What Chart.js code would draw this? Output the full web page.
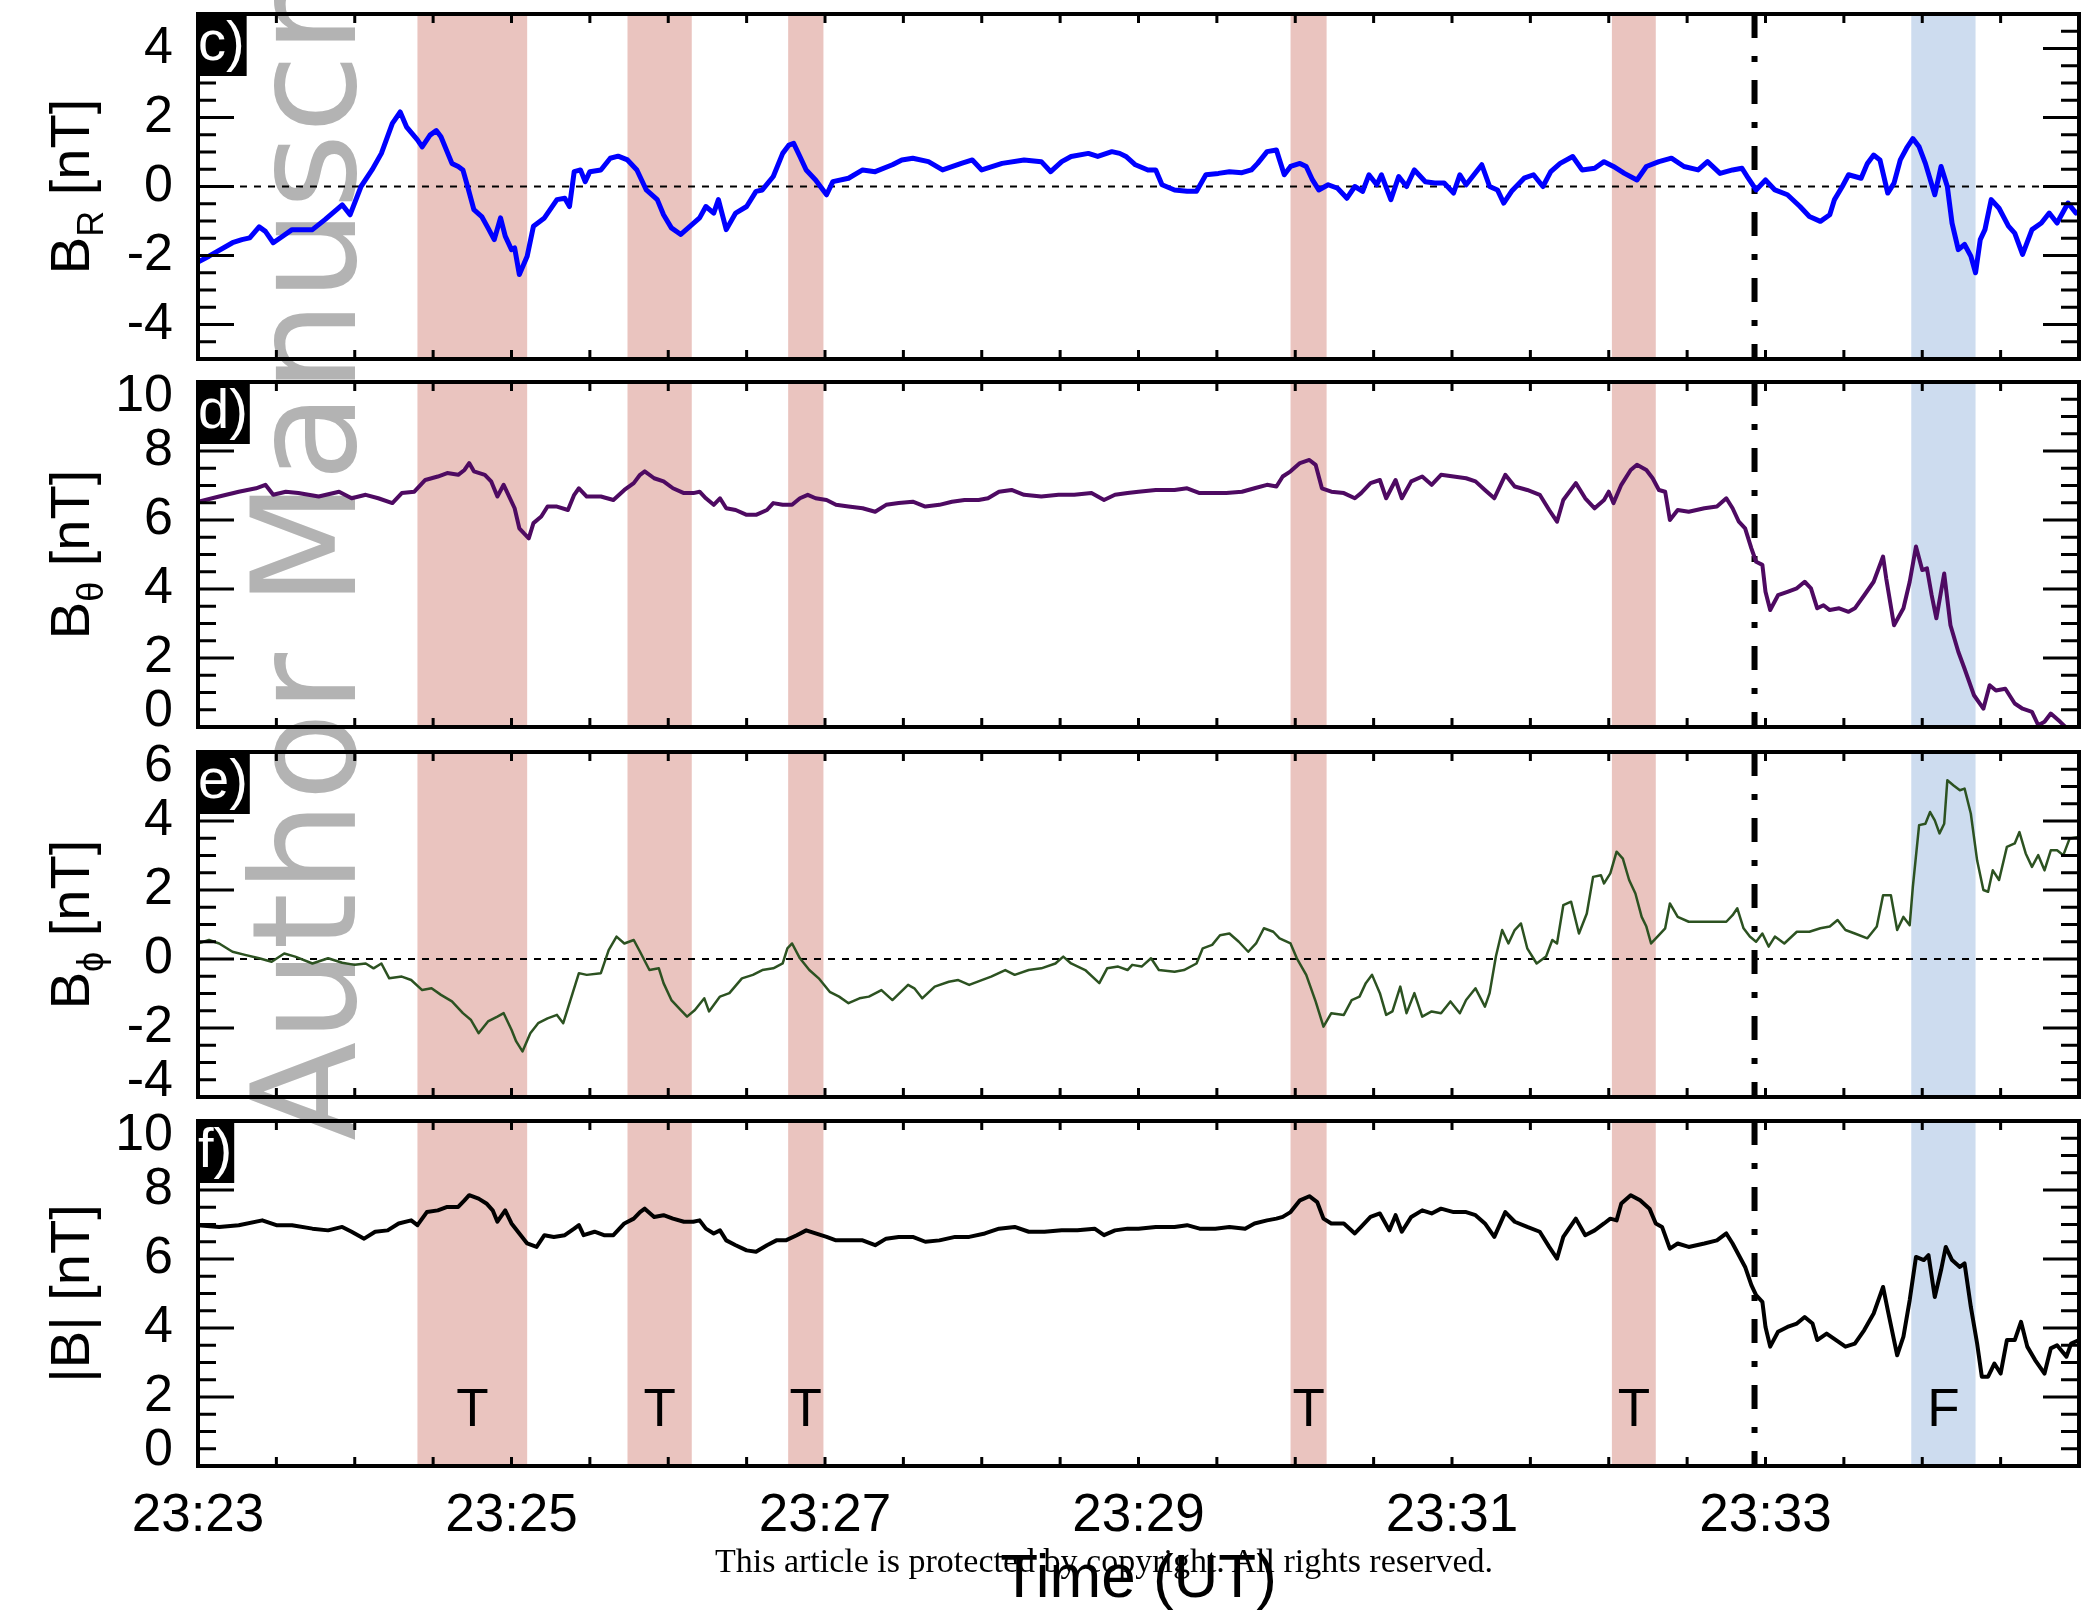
<!DOCTYPE html>
<html>
<head>
<meta charset="utf-8">
<script src="https://cdn.jsdelivr.net/npm/chart.js@4.4.0/dist/chart.umd.min.js"></script>
<style>
  html, body { margin: 0; padding: 0; background: #fff; }
  #wrap { position: relative; width: 2081px; height: 1613px; overflow: hidden; }
  #wrap canvas { position: absolute; left: 0; }
  #mark { top: 0; z-index: 0; }
  .panel { z-index: 1; }
  #copy { position: absolute; z-index: 3; left: 1104px; top: 1561px; transform: translate(-50%, -50%);
          font: 34px "Liberation Serif", serif; white-space: nowrap; color: #000; }
</style>
</head>
<body>
<div id="wrap">
  <canvas id="mark" width="2081" height="1613"></canvas>
  <canvas id="pc" class="panel"></canvas>
  <canvas id="pd" class="panel"></canvas>
  <canvas id="pe" class="panel"></canvas>
  <canvas id="pf" class="panel"></canvas>
  <div id="copy">This article is protected by copyright. All rights reserved.</div>
</div>
<script>
// time in minutes after 23:23 UT, field in nT
const brPoints = [[0,-2.19],[0.07,-2.02],[0.22,-1.63],[0.28,-1.54],[0.33,-1.49],[0.39,-1.17],[0.43,-1.30],[0.48,-1.63],[0.54,-1.44],[0.60,-1.25],[0.73,-1.25],[0.81,-0.96],[0.92,-0.53],[0.97,-0.82],[1.04,0],[1.11,0.48],[1.17,0.96],[1.24,1.83],[1.29,2.16],[1.33,1.73],[1.40,1.35],[1.43,1.15],[1.48,1.49],[1.52,1.62],[1.55,1.44],[1.62,0.67],[1.66,0.58],[1.69,0.48],[1.72,0],[1.76,-0.67],[1.81,-0.87],[1.85,-1.20],[1.89,-1.54],[1.93,-0.91],[1.96,-1.44],[2.00,-1.83],[2.02,-1.78],[2.05,-2.55],[2.10,-2.02],[2.14,-1.15],[2.21,-0.91],[2.29,-0.38],[2.34,-0.34],[2.37,-0.58],[2.40,0.43],[2.44,0.48],[2.47,0.14],[2.50,0.43],[2.57,0.48],[2.63,0.82],[2.68,0.88],[2.74,0.77],[2.80,0.48],[2.86,-0.10],[2.93,-0.38],[2.97,-0.82],[3.02,-1.20],[3.08,-1.39],[3.14,-1.15],[3.20,-0.91],[3.24,-0.58],[3.29,-0.77],[3.32,-0.38],[3.37,-1.25],[3.43,-0.77],[3.50,-0.58],[3.56,-0.14],[3.60,-0.10],[3.67,0.29],[3.73,0.96],[3.77,1.20],[3.80,1.25],[3.84,0.87],[3.88,0.48],[3.94,0.19],[4.01,-0.24],[4.05,0.14],[4.15,0.24],[4.24,0.48],[4.32,0.43],[4.43,0.63],[4.49,0.77],[4.56,0.82],[4.66,0.72],[4.75,0.48],[4.87,0.67],[4.94,0.77],[5.00,0.48],[5.13,0.67],[5.27,0.77],[5.38,0.72],[5.44,0.43],[5.51,0.72],[5.57,0.87],[5.68,0.96],[5.74,0.87],[5.83,1.01],[5.88,0.96],[5.92,0.87],[5.98,0.63],[6.06,0.48],[6.11,0.48],[6.15,0.05],[6.23,-0.10],[6.31,-0.14],[6.37,-0.14],[6.43,0.34],[6.51,0.38],[6.58,0.43],[6.66,0.40],[6.72,0.48],[6.76,0.67],[6.82,1.01],[6.88,1.06],[6.90,0.77],[6.93,0.34],[6.97,0.58],[7.03,0.67],[7.07,0.58],[7.11,0.19],[7.15,-0.10],[7.21,0.05],[7.27,-0.05],[7.33,-0.34],[7.38,0],[7.43,-0.14],[7.47,0.34],[7.52,0.05],[7.55,0.34],[7.61,-0.38],[7.66,0.29],[7.71,0],[7.76,0.48],[7.83,0.14],[7.89,0.10],[7.95,0.10],[8.01,-0.19],[8.05,0.34],[8.09,0.05],[8.19,0.63],[8.24,0],[8.29,-0.10],[8.33,-0.48],[8.38,-0.14],[8.46,0.24],[8.52,0.34],[8.58,0],[8.63,0.43],[8.69,0.67],[8.77,0.87],[8.83,0.48],[8.91,0.53],[8.97,0.72],[9.03,0.58],[9.10,0.38],[9.18,0.19],[9.24,0.58],[9.32,0.72],[9.40,0.82],[9.48,0.58],[9.57,0.48],[9.63,0.72],[9.71,0.38],[9.79,0.48],[9.85,0.53],[9.89,0.24],[9.94,-0.10],[10.00,0.19],[10.06,-0.10],[10.14,-0.24],[10.22,-0.58],[10.28,-0.87],[10.35,-1.01],[10.41,-0.82],[10.44,-0.38],[10.49,0],[10.53,0.34],[10.61,0.24],[10.65,0.67],[10.69,0.91],[10.73,0.77],[10.78,-0.19],[10.82,0.10],[10.86,0.77],[10.90,1.11],[10.94,1.39],[10.98,1.15],[11.02,0.67],[11.08,-0.24],[11.12,0.58],[11.16,0],[11.19,-1.06],[11.23,-1.83],[11.27,-1.68],[11.31,-2.02],[11.34,-2.50],[11.37,-1.54],[11.40,-1.25],[11.44,-0.38],[11.49,-0.63],[11.55,-1.15],[11.59,-1.35],[11.64,-1.97],[11.70,-1.25],[11.76,-1.06],[11.81,-0.77],[11.86,-1.06],[11.93,-0.48],[11.98,-0.77],[12.0,-0.72]];

const bthetaPoints = [[0,6.53],[0.135,6.68],[0.26,6.82],[0.37,6.92],[0.43,7.02],[0.48,6.73],[0.56,6.82],[0.64,6.78],[0.77,6.68],[0.90,6.82],[0.98,6.63],[1.07,6.73],[1.15,6.63],[1.24,6.49],[1.30,6.78],[1.38,6.82],[1.45,7.16],[1.53,7.26],[1.59,7.36],[1.66,7.31],[1.70,7.45],[1.73,7.65],[1.76,7.41],[1.83,7.31],[1.87,7.12],[1.91,6.68],[1.95,7.02],[1.98,6.73],[2.02,6.34],[2.05,5.76],[2.08,5.61],[2.11,5.47],[2.14,5.91],[2.19,6.10],[2.23,6.39],[2.29,6.39],[2.36,6.29],[2.40,6.73],[2.43,6.92],[2.48,6.68],[2.57,6.68],[2.65,6.58],[2.72,6.87],[2.78,7.07],[2.82,7.31],[2.85,7.41],[2.91,7.21],[2.97,7.12],[3.03,6.92],[3.10,6.78],[3.16,6.78],[3.20,6.82],[3.24,6.63],[3.29,6.44],[3.33,6.63],[3.37,6.34],[3.43,6.29],[3.50,6.15],[3.56,6.15],[3.63,6.29],[3.67,6.49],[3.73,6.44],[3.79,6.44],[3.84,6.63],[3.89,6.73],[3.94,6.63],[4.01,6.58],[4.07,6.44],[4.15,6.39],[4.24,6.34],[4.32,6.24],[4.39,6.44],[4.47,6.49],[4.56,6.53],[4.64,6.39],[4.73,6.44],[4.81,6.53],[4.89,6.58],[4.98,6.58],[5.04,6.63],[5.11,6.82],[5.19,6.87],[5.27,6.73],[5.38,6.68],[5.49,6.73],[5.59,6.73],[5.70,6.78],[5.78,6.58],[5.85,6.73],[5.93,6.78],[6.0,6.82],[6.11,6.87],[6.23,6.87],[6.31,6.92],[6.39,6.78],[6.47,6.78],[6.56,6.78],[6.66,6.82],[6.74,6.92],[6.82,7.02],[6.88,6.97],[6.92,7.26],[6.97,7.41],[7.03,7.65],[7.09,7.74],[7.13,7.60],[7.17,6.92],[7.23,6.82],[7.31,6.78],[7.38,6.63],[7.42,6.78],[7.48,7.07],[7.54,7.16],[7.58,6.63],[7.64,7.16],[7.68,6.63],[7.74,7.12],[7.81,7.26],[7.87,7.02],[7.93,7.31],[8.01,7.26],[8.09,7.21],[8.15,7.12],[8.21,6.87],[8.27,6.63],[8.34,7.31],[8.40,6.97],[8.48,6.87],[8.56,6.73],[8.62,6.29],[8.67,5.95],[8.71,6.58],[8.79,7.07],[8.85,6.63],[8.91,6.34],[8.97,6.58],[9.00,6.82],[9.03,6.49],[9.08,7.02],[9.14,7.45],[9.18,7.60],[9.24,7.45],[9.28,7.21],[9.32,6.87],[9.36,6.82],[9.39,6.00],[9.44,6.29],[9.51,6.24],[9.61,6.34],[9.69,6.39],[9.75,6.63],[9.79,6.34],[9.83,5.95],[9.87,5.76],[9.91,5.18],[9.94,4.79],[9.98,4.70],[10.00,3.92],[10.03,3.39],[10.08,3.82],[10.14,3.92],[10.20,4.02],[10.25,4.21],[10.29,4.02],[10.33,3.44],[10.37,3.53],[10.41,3.39],[10.47,3.44],[10.53,3.34],[10.57,3.44],[10.63,3.82],[10.69,4.21],[10.75,4.94],[10.77,4.31],[10.82,2.95],[10.88,3.44],[10.92,4.21],[10.96,5.23],[11.00,4.55],[11.03,4.60],[11.06,3.82],[11.09,3.15],[11.14,4.45],[11.18,2.95],[11.23,2.18],[11.27,1.69],[11.33,0.92],[11.39,0.53],[11.43,1.21],[11.47,1.06],[11.53,1.11],[11.59,0.68],[11.64,0.53],[11.70,0.44],[11.74,0.05],[11.78,0.15],[11.82,0.39],[11.88,0.15],[11.93,-0.07],[12.0,-0.1]];

const bphiPoints = [[0,0.45],[0.07,0.55],[0.135,0.45],[0.22,0.21],[0.30,0.12],[0.39,0.02],[0.47,-0.08],[0.55,0.16],[0.62,0.07],[0.73,-0.13],[0.83,0.02],[0.92,-0.11],[1.0,-0.17],[1.07,-0.13],[1.12,-0.27],[1.17,-0.13],[1.22,-0.56],[1.30,-0.51],[1.36,-0.61],[1.43,-0.90],[1.49,-0.85],[1.55,-1.04],[1.62,-1.23],[1.69,-1.57],[1.74,-1.76],[1.79,-2.15],[1.85,-1.81],[1.91,-1.67],[1.95,-1.57],[2.0,-2.05],[2.03,-2.39],[2.07,-2.68],[2.12,-2.15],[2.17,-1.86],[2.23,-1.72],[2.29,-1.62],[2.33,-1.86],[2.39,-0.99],[2.43,-0.41],[2.48,-0.46],[2.57,-0.41],[2.62,0.26],[2.67,0.65],[2.72,0.45],[2.78,0.55],[2.82,0.21],[2.88,-0.32],[2.94,-0.27],[2.97,-0.70],[3.02,-1.19],[3.08,-1.48],[3.12,-1.67],[3.17,-1.48],[3.23,-1.14],[3.26,-1.52],[3.33,-1.09],[3.39,-0.99],[3.47,-0.56],[3.54,-0.46],[3.60,-0.32],[3.67,-0.27],[3.73,-0.13],[3.76,0.31],[3.79,0.45],[3.84,0.02],[3.90,-0.32],[3.96,-0.56],[4.03,-0.95],[4.09,-1.09],[4.15,-1.28],[4.22,-1.14],[4.28,-1.09],[4.36,-0.90],[4.43,-1.19],[4.53,-0.75],[4.57,-0.85],[4.62,-1.14],[4.70,-0.80],[4.79,-0.66],[4.85,-0.61],[4.92,-0.75],[5.0,-0.61],[5.06,-0.51],[5.15,-0.32],[5.21,-0.46],[5.30,-0.32],[5.38,-0.27],[5.47,-0.13],[5.52,0.07],[5.57,-0.13],[5.66,-0.32],[5.75,-0.70],[5.80,-0.27],[5.87,-0.22],[5.93,-0.32],[5.96,-0.17],[6.02,-0.22],[6.08,0.02],[6.13,-0.32],[6.23,-0.37],[6.29,-0.32],[6.37,-0.13],[6.41,0.31],[6.47,0.41],[6.52,0.69],[6.58,0.74],[6.64,0.50],[6.70,0.21],[6.75,0.45],[6.80,0.89],[6.86,0.79],[6.90,0.60],[6.97,0.45],[7.01,0.02],[7.07,-0.46],[7.13,-1.23],[7.18,-1.96],[7.23,-1.57],[7.31,-1.62],[7.36,-1.19],[7.41,-1.09],[7.45,-0.70],[7.49,-0.46],[7.54,-0.99],[7.58,-1.62],[7.62,-1.52],[7.67,-0.80],[7.71,-1.57],[7.76,-0.99],[7.81,-1.67],[7.87,-1.52],[7.93,-1.57],[7.99,-1.23],[8.05,-1.57],[8.09,-1.19],[8.15,-0.85],[8.21,-1.38],[8.24,-0.99],[8.28,0.07],[8.32,0.84],[8.36,0.45],[8.40,0.84],[8.44,1.03],[8.48,0.31],[8.54,-0.13],[8.60,0.07],[8.64,0.55],[8.67,0.45],[8.71,1.56],[8.76,1.66],[8.81,0.74],[8.86,1.32],[8.90,2.38],[8.95,2.43],[8.97,2.19],[9.01,2.48],[9.05,3.11],[9.09,2.91],[9.13,2.29],[9.17,1.90],[9.21,1.22],[9.24,0.94],[9.27,0.45],[9.32,0.69],[9.36,0.89],[9.39,1.61],[9.44,1.22],[9.51,1.08],[9.61,1.08],[9.69,1.08],[9.75,1.08],[9.79,1.27],[9.82,1.47],[9.86,0.89],[9.90,0.65],[9.94,0.50],[9.98,0.74],[10.02,0.36],[10.06,0.65],[10.12,0.45],[10.20,0.79],[10.28,0.79],[10.35,0.89],[10.41,0.94],[10.46,1.13],[10.51,0.84],[10.57,0.74],[10.65,0.60],[10.71,0.94],[10.75,1.85],[10.80,1.85],[10.84,0.84],[10.88,1.22],[10.92,0.98],[10.94,2.09],[10.98,3.88],[11.02,3.92],[11.05,4.26],[11.08,4.02],[11.11,3.64],[11.14,3.92],[11.16,5.18],[11.20,5.03],[11.24,4.89],[11.27,4.94],[11.31,4.21],[11.35,2.86],[11.39,2.00],[11.42,1.95],[11.45,2.57],[11.49,2.29],[11.54,3.25],[11.59,3.35],[11.62,3.68],[11.66,3.06],[11.70,2.67],[11.74,3.01],[11.78,2.57],[11.82,3.15],[11.86,3.15],[11.90,3.01],[11.94,3.49],[12.0,3.54]];

const bmagPoints = [[0,6.98],[0.135,6.93],[0.26,6.98],[0.41,7.12],[0.50,6.98],[0.60,6.98],[0.73,6.88],[0.83,6.83],[0.92,6.93],[0.98,6.79],[1.06,6.59],[1.13,6.79],[1.21,6.83],[1.28,7.03],[1.36,7.12],[1.40,6.98],[1.46,7.36],[1.53,7.41],[1.59,7.51],[1.66,7.51],[1.70,7.70],[1.73,7.85],[1.79,7.75],[1.84,7.61],[1.88,7.41],[1.91,7.08],[1.96,7.41],[2.00,7.03],[2.05,6.74],[2.10,6.45],[2.16,6.35],[2.21,6.69],[2.27,6.64],[2.34,6.69],[2.40,6.88],[2.43,6.98],[2.46,6.69],[2.53,6.79],[2.59,6.69],[2.65,6.69],[2.72,7.03],[2.78,7.17],[2.82,7.36],[2.85,7.46],[2.91,7.22],[2.97,7.27],[3.03,7.17],[3.10,7.08],[3.16,7.08],[3.20,7.12],[3.24,6.88],[3.29,6.74],[3.33,6.83],[3.37,6.54],[3.43,6.40],[3.50,6.25],[3.56,6.21],[3.63,6.40],[3.69,6.54],[3.75,6.54],[3.82,6.69],[3.88,6.83],[3.94,6.74],[4.01,6.64],[4.07,6.54],[4.15,6.54],[4.24,6.54],[4.32,6.40],[4.39,6.59],[4.47,6.64],[4.56,6.64],[4.64,6.50],[4.73,6.54],[4.83,6.64],[4.92,6.64],[5.02,6.74],[5.11,6.88],[5.21,6.93],[5.30,6.79],[5.40,6.79],[5.51,6.83],[5.61,6.83],[5.72,6.88],[5.78,6.69],[5.85,6.83],[5.93,6.88],[6.0,6.88],[6.11,6.93],[6.23,6.93],[6.31,6.98],[6.39,6.88],[6.49,6.88],[6.58,6.93],[6.68,6.88],[6.74,7.03],[6.82,7.12],[6.88,7.17],[6.92,7.22],[6.97,7.36],[7.03,7.70],[7.09,7.82],[7.14,7.65],[7.18,7.17],[7.23,7.03],[7.31,7.03],[7.38,6.74],[7.42,6.93],[7.48,7.22],[7.54,7.32],[7.60,6.83],[7.64,7.27],[7.68,6.79],[7.74,7.22],[7.81,7.41],[7.87,7.32],[7.93,7.46],[8.01,7.36],[8.09,7.36],[8.15,7.27],[8.21,7.03],[8.27,6.64],[8.34,7.36],[8.40,7.08],[8.48,6.93],[8.56,6.79],[8.62,6.35],[8.67,6.01],[8.71,6.64],[8.79,7.17],[8.85,6.69],[8.91,6.83],[8.97,7.03],[9.01,7.17],[9.05,7.12],[9.08,7.61],[9.14,7.85],[9.20,7.70],[9.26,7.46],[9.30,7.03],[9.34,6.93],[9.39,6.30],[9.44,6.45],[9.51,6.35],[9.61,6.45],[9.69,6.54],[9.75,6.74],[9.79,6.45],[9.83,6.11],[9.87,5.77],[9.91,5.24],[9.94,4.95],[9.98,4.76],[10.00,4.03],[10.03,3.46],[10.08,3.89],[10.14,4.03],[10.20,4.13],[10.25,4.32],[10.30,4.13],[10.33,3.65],[10.39,3.84],[10.45,3.65],[10.51,3.46],[10.57,3.55],[10.63,3.94],[10.69,4.42],[10.75,5.19],[10.78,4.52],[10.84,3.21],[10.88,3.75],[10.92,4.81],[10.96,6.06],[11.01,5.97],[11.04,6.11],[11.08,4.90],[11.12,5.68],[11.15,6.35],[11.19,5.97],[11.24,5.77],[11.27,5.87],[11.31,4.61],[11.35,3.55],[11.38,2.59],[11.42,2.59],[11.46,2.97],[11.50,2.68],[11.54,3.65],[11.59,3.65],[11.63,4.18],[11.67,3.46],[11.72,3.07],[11.78,2.68],[11.82,3.41],[11.86,3.50],[11.92,3.17],[11.95,3.55],[12.0,3.65]];

// shaded intervals (minutes after 23:23) and their tags
const tBands = [[1.40, 2.10], [2.74, 3.15], [3.765, 3.99], [6.97, 7.20], [9.02, 9.30]];
const fBands = [[10.93, 11.34]];
const bandTags = ['T', 'T', 'T', 'T', 'T', 'F'];
const boundaryTime = 9.93;
const tagLevel = 1.16;

const FONT = '"Liberation Sans", Arial, Helvetica, sans-serif';

// watermark behind the panels
(function () {
  const ctx = document.getElementById('mark').getContext('2d');
  ctx.save();
  ctx.translate(355, 1141);
  ctx.rotate(-Math.PI / 2);
  ctx.font = '145px "DejaVu Sans"';
  ctx.fillStyle = '#b3b3b3';
  ctx.fillText('Author Manuscript', 0, 0);
  ctx.restore();
})();

const decor = {
  id: 'decor',
  beforeDraw(chart) {
    // pull the outermost labelled y ticks inside the frame
    const y = chart.scales.y;
    if (!y._shifted) {
      const orig = y.getPixelForTick.bind(y);
      y.getPixelForTick = function (i) {
        const p = orig(i);
        const n = this.ticks.length;
        if (i === 0 && this.ticks[0].label) return p - 15;
        if (i === n - 1 && this.ticks[n - 1].label) return p + 15;
        return p;
      };
      y._shifted = true;
    }
    y._labelItems = null;
  },
  beforeDatasetsDraw(chart, args, o) {
    const {ctx, chartArea: a, scales: {x}} = chart;
    ctx.save();
    tBands.forEach(b => {
      ctx.fillStyle = '#eac4bf';
      ctx.fillRect(x.getPixelForValue(b[0]), a.top, x.getPixelForValue(b[1]) - x.getPixelForValue(b[0]), a.bottom - a.top);
    });
    fBands.forEach(b => {
      ctx.fillStyle = '#cddcef';
      ctx.fillRect(x.getPixelForValue(b[0]), a.top, x.getPixelForValue(b[1]) - x.getPixelForValue(b[0]), a.bottom - a.top);
    });
    const bx = x.getPixelForValue(boundaryTime);
    ctx.strokeStyle = '#000';
    ctx.lineWidth = 6;
    ctx.setLineDash([24, 18, 6, 18]);
    ctx.beginPath();
    ctx.moveTo(bx, a.top);
    ctx.lineTo(bx, a.bottom);
    ctx.stroke();
    ctx.restore();
  },
  afterDraw(chart, args, o) {
    const {ctx, chartArea: a, scales: {x, y}} = chart;
    ctx.save();
    // band tags
    if (o.tags) {
      ctx.font = '53px ' + FONT;
      ctx.fillStyle = '#000';
      ctx.textAlign = 'center';
      ctx.textBaseline = 'alphabetic';
      tBands.concat(fBands).forEach((b, i) => {
        ctx.fillText(bandTags[i], x.getPixelForValue((b[0] + b[1]) / 2), y.getPixelForValue(tagLevel));
      });
    }
    // frame
    ctx.strokeStyle = '#000';
    ctx.lineWidth = 4;
    ctx.strokeRect(a.left, a.top, a.right - a.left, a.bottom - a.top);
    // inward tick marks
    ctx.lineWidth = 3;
    ctx.beginPath();
    x.ticks.forEach(t => {
      const px = x.getPixelForValue(t.value);
      ctx.moveTo(px, a.top); ctx.lineTo(px, a.top + 9);
      ctx.moveTo(px, a.bottom); ctx.lineTo(px, a.bottom - 9);
    });
    y.ticks.forEach(t => {
      const py = y.getPixelForValue(t.value);
      const len = (t.value % 2 === 0) ? 36 : 18;
      ctx.moveTo(a.left, py); ctx.lineTo(a.left + len, py);
      ctx.moveTo(a.right, py); ctx.lineTo(a.right - len, py);
    });
    ctx.stroke();
    // panel letter box
    ctx.font = '56px ' + FONT;
    const w = ctx.measureText(o.letter).width;
    ctx.fillStyle = '#000';
    ctx.fillRect(a.left - 2, a.top - 2, w + 4, 64);
    ctx.fillStyle = '#fff';
    ctx.textAlign = 'left';
    ctx.textBaseline = 'alphabetic';
    ctx.fillText(o.letter, a.left, a.top + 46);
    // rotated y title with subscript
    const cy = (a.top + a.bottom) / 2;
    ctx.translate(89, cy);
    ctx.rotate(-Math.PI / 2);
    ctx.fillStyle = '#000';
    ctx.font = '56px ' + FONT;
    const w1 = ctx.measureText(o.title[0]).width;
    const w3 = ctx.measureText(o.title[2]).width;
    ctx.font = '36px ' + FONT;
    const w2 = ctx.measureText(o.title[1]).width;
    let sx = -(w1 + w2 + w3) / 2;
    ctx.font = '56px ' + FONT;
    ctx.fillText(o.title[0], sx, 0);
    ctx.font = '36px ' + FONT;
    ctx.fillText(o.title[1], sx + w1, 14);
    ctx.font = '56px ' + FONT;
    ctx.fillText(o.title[2], sx + w1 + w2, 0);
    ctx.restore();
  }
};

const panels = [
  {id: 'pc', top: 0, letter: 'c)', title: ['B', 'R', ' [nT]'], min: -5, max: 5, pts: brPoints, color: '#0000ff', width: 5, zero: true},
  {id: 'pd', top: 368, letter: 'd)', title: ['B', 'θ', ' [nT]'], min: 0, max: 10, pts: bthetaPoints, color: '#4e0a62', width: 4, zero: false},
  {id: 'pe', top: 738, letter: 'e)', title: ['B', 'ϕ', ' [nT]'], min: -4, max: 6, pts: bphiPoints, color: '#2c5221', width: 2.5, zero: true},
  {id: 'pf', top: 1107, letter: 'f)', title: ['|B|', '', ' [nT]'], min: 0, max: 10, pts: bmagPoints, color: '#000000', width: 4, zero: false, bottom: true}
];

panels.forEach(p => {
  const cv = document.getElementById(p.id);
  const h = p.bottom ? 1613 - p.top : 373;
  cv.width = 2081; cv.height = h;
  cv.style.top = p.top + 'px';
  cv.style.width = '2081px'; cv.style.height = h + 'px';

  const datasets = [{
    data: p.pts.map(d => ({x: d[0], y: d[1]})),
    borderColor: p.color, borderWidth: p.width, pointRadius: 0, tension: 0,
    borderJoinStyle: 'round', fill: false
  }];
  if (p.zero) {
    datasets.push({
      data: [{x: 0, y: 0}, {x: 12, y: 0}],
      borderColor: '#000', borderWidth: 2, borderDash: [7, 7], pointRadius: 0, fill: false
    });
  }

  new Chart(cv, {
    type: 'line',
    data: {datasets},
    plugins: [decor],
    options: {
      responsive: false,
      animation: false,
      events: [],
      layout: {padding: {left: 0, right: 2, top: 14, bottom: p.bottom ? 0 : 14}},
      plugins: {
        legend: {display: false},
        tooltip: {enabled: false},
        decor: {letter: p.letter, title: p.title, tags: !!p.bottom}
      },
      scales: {
        x: {
          type: 'linear', min: 0, max: 12,
          grid: {display: false}, border: {display: false},
          ticks: {
            display: !!p.bottom, stepSize: 0.5, autoSkip: false, maxRotation: 0, minRotation: 0,
            padding: 11, color: '#000', font: {family: FONT, size: 53},
            callback: v => (v % 2 === 0 && v < 12) ? '23:' + (23 + v) : ''
          },
          title: {
            display: !!p.bottom, text: 'Time (UT)', color: '#000',
            font: {family: FONT, size: 62, lineHeight: 1}, padding: {top: 0, bottom: 2}
          },
          afterFit: s => {
            s.height = p.bottom ? 147 : 0;
            s.paddingLeft = 0; s.paddingRight = 0;
          }
        },
        y: {
          min: p.min, max: p.max,
          grid: {display: false}, border: {display: false},
          ticks: {
            stepSize: 0.5, autoSkip: false, padding: 17, color: '#000',
            font: {family: FONT, size: 52},
            callback: v => (v % 2 === 0) ? String(v) : ''
          },
          afterFit: s => {
            s.width = 198;
            s.paddingTop = 0; s.paddingBottom = 0;
          }
        }
      }
    }
  });
});
</script>
</body>
</html>
